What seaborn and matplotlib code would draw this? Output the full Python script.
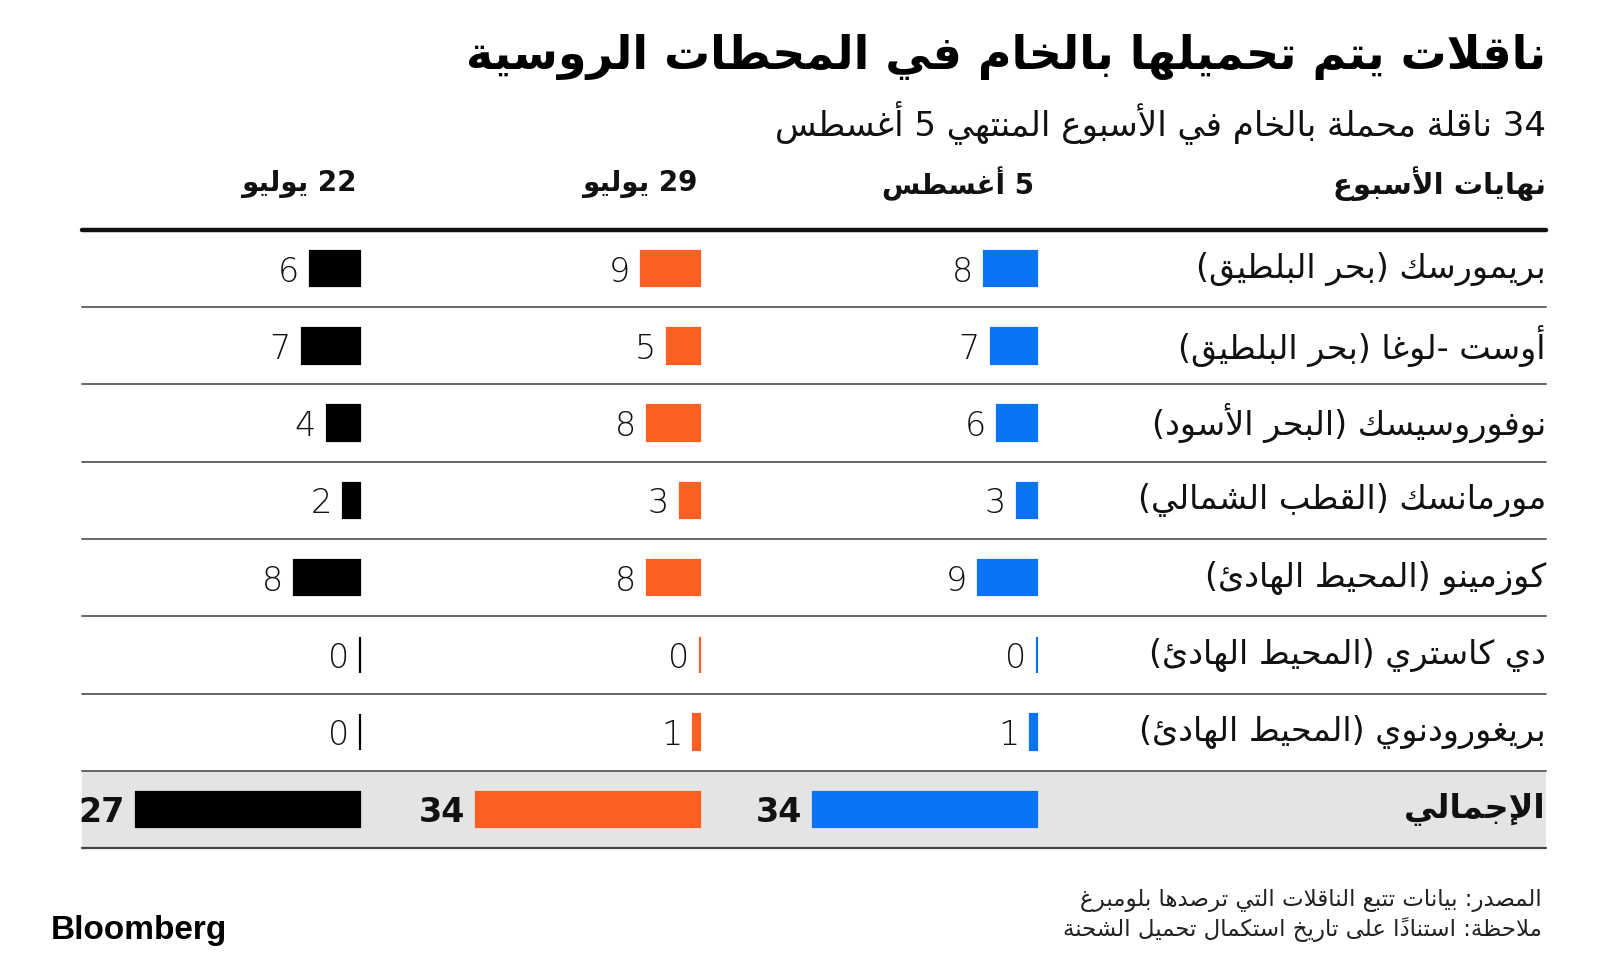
import re
import pandas as pd
import seaborn as sns
import matplotlib
matplotlib.use("Agg")
import matplotlib.pyplot as plt

# Données
ports = [
    "بريمورسك (بحر البلطيق)",
    "أوست -لوغا (بحر البلطيق)",
    "نوفوروسيسك (البحر الأسود)",
    "مورمانسك (القطب الشمالي)",
    "كوزمينو (المحيط الهادئ)",
    "دي كاستري (المحيط الهادئ)",
    "بريغورودنوي (المحيط الهادئ)",
    "الإجمالي",
]
weeks = ["5 أغسطس", "29 يوليو", "22 يوليو"]
aug_5 = [8, 7, 6, 3, 9, 0, 1, 34]
jul_29 = [9, 5, 8, 3, 8, 0, 1, 34]
jul_22 = [6, 7, 4, 2, 8, 0, 0, 27]
week_colors = ["#0a74f5", "#f96022", "#000000"]

title = "ناقلات يتم تحميلها بالخام في المحطات الروسية"
subtitle = "34 ناقلة محملة بالخام في الأسبوع المنتهي 5 أغسطس"
first_header = "نهايات الأسبوع"
source = "المصدر: بيانات تتبع الناقلات التي ترصدها بلومبرغ"
note = "ملاحظة: استناداً على تاريخ استكمال تحميل الشحنة"

# matplotlib ne fait pas la mise en forme de l'arabe : formes contextuelles + ordre visuel
_letters = [chr(c) for c in list(range(0x0621, 0x063B)) + list(range(0x0641, 0x064B))]
_n_forms = [1, 2, 2, 2, 2, 4, 2, 4, 2, 4, 4, 4, 4, 4, 2, 2, 2, 2,
            4, 4, 4, 4, 4, 4, 4, 4, 4, 4, 4, 4, 4, 4, 4, 2, 2, 4]
FORMS = {}
_code = 0xFE80
for _ch, _k in zip(_letters, _n_forms):
    FORMS[_ch] = [chr(_code + j) for j in range(_k)]
    _code += _k
LAM_ALEF = {"آ": 0xFEF5, "أ": 0xFEF7, "إ": 0xFEF9, "ا": 0xFEFB}
MARKS = set(chr(c) for c in range(0x064B, 0x0653))


def ar(text):
    chars = list(text)
    n = len(chars)

    def neighbour(i, step):
        j = i + step
        while 0 <= j < n and chars[j] in MARKS:
            j += step
        return j if 0 <= j < n else None

    def dual(c):
        return c in FORMS and len(FORMS[c]) == 4

    out = []
    i = 0
    while i < n:
        c = chars[i]
        if c not in FORMS:
            out.append(c)
            i += 1
            continue
        p = neighbour(i, -1)
        joins_prev = p is not None and dual(chars[p])
        nx = neighbour(i, 1)
        if c == "ل" and nx is not None and chars[nx] in LAM_ALEF:
            out.append(chr(LAM_ALEF[chars[nx]] + int(joins_prev)))
            i = nx + 1
            continue
        joins_next = dual(c) and nx is not None and chars[nx] in FORMS and chars[nx] != "ء"
        f = FORMS[c]
        if len(f) == 4:
            k = 3 if joins_prev and joins_next else 1 if joins_prev else 2 if joins_next else 0
        elif len(f) == 2:
            k = 1 if joins_prev else 0
        else:
            k = 0
        out.append(f[k])
        i += 1
    runs = re.findall(r"[0-9A-Za-z]+|.[\u064B-\u0652]*", "".join(out))
    mirror = {"(": ")", ")": "("}
    return "".join(mirror.get(r, r) for r in reversed(runs))


sns.set_style("white")
plt.rcParams["font.family"] = ["DejaVu Sans"]

W, H = 1600, 960
fig = plt.figure(figsize=(16, 9.6), dpi=100)

def fx(x):
    return x / W

def fy(y):
    return 1 - y / H

table_left, table_right = 82, 1546
table_top, table_bottom = 230, 848
n_rows = len(ports)

# Fond : lignes de séparation et bande du total
bg = fig.add_axes([fx(table_left), fy(table_bottom), (table_right - table_left) / W,
                   (table_bottom - table_top) / H])
bg.set_xlim(0, 1)
bg.set_ylim(n_rows - 0.5, -0.5)
bg.axis("off")
bg.axhspan(n_rows - 1.5, n_rows - 0.5, color="#e4e4e4", zorder=0)
for k in range(n_rows - 1):
    bg.axhline(k + 0.5, color="#5a5a5a", lw=1.3, clip_on=False)
bg.axhline(n_rows - 0.5, color="#444444", lw=1.6, clip_on=False)
bg.axhline(-0.5, color="#111111", lw=3.2, clip_on=False)

for k, port in enumerate(ports):
    last = k == n_rows - 1
    bg.text(1, k, ar(port), ha="right", va="center", fontsize=24,
            fontweight="bold" if last else "normal", color="#111111")

# Colonnes de barres, une par semaine, chacune à sa propre échelle
col_right = [1037, 700, 360]
col_width = 224
series = [aug_5, jul_29, jul_22]
df = pd.DataFrame({"port": [str(k) for k in range(n_rows)]})
for week, values, color, right in zip(weeks, series, week_colors, col_right):
    df["value"] = values
    ax = fig.add_axes([fx(right - col_width), fy(table_bottom), col_width / W,
                       (table_bottom - table_top) / H])
    sns.barplot(data=df, x="value", y="port", orient="h", ax=ax, color=color,
                saturation=1, width=0.46, edgecolor=color, linewidth=1.6)
    for patch in ax.patches:
        patch.set_clip_on(False)
    ax.set_xlim(max(values), 0)
    ax.set_ylim(n_rows - 0.5, -0.5)
    ax.axis("off")
    ax.patch.set_alpha(0)
    for k, v in enumerate(values):
        last = k == n_rows - 1
        ax.annotate(str(v), xy=(v, k), xytext=(-11, 0), textcoords="offset pixels",
                    ha="right", va="center_baseline", fontsize=24,
                    fontweight="bold" if last else "light", color="#111111")
    fig.text(fx(right - 3), fy(184), ar(week), ha="right", va="center",
             fontsize=20, fontweight="bold", color="#111111")

fig.text(fx(1546), fy(184), ar(first_header), ha="right", va="center",
         fontsize=21, fontweight="bold", color="#111111")

# Titre et sous-titre
fig.text(fx(1546), fy(57), ar(title), ha="right", va="center",
         fontsize=33, fontweight="bold", color="#000000")
fig.text(fx(1546), fy(122), ar(subtitle), ha="right", va="center",
         fontsize=24.5, color="#111111")

# Pied de page
fig.text(fx(1542), fy(900), ar(source), ha="right", va="center",
         fontsize=16.5, color="#222222")
fig.text(fx(1542), fy(930), ar(note), ha="right", va="center",
         fontsize=16.5, color="#222222")
fig.text(fx(51), fy(930), "Bloomberg", ha="left", va="center",
         fontsize=24, fontweight="bold", family=["Liberation Sans", "DejaVu Sans"],
         color="#000000")

fig.savefig("out.png", dpi=100, facecolor="white")
